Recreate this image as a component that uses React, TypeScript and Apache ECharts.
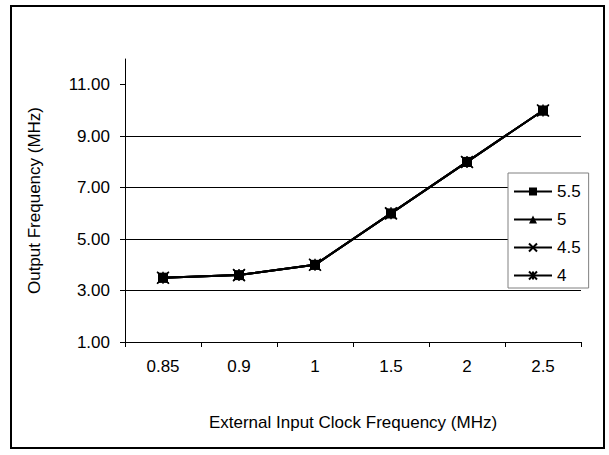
import React, { useEffect, useRef } from "react";
import * as echarts from "echarts";

const categories = ["0.85", "0.9", "1", "1.5", "2", "2.5"];
const seriesNames = ["5.5", "5", "4.5", "4"];
const values55 = [3.5, 3.6, 4.0, 6.0, 8.0, 10.0];
const values5 = [3.5, 3.6, 4.0, 6.0, 8.0, 10.0];
const values45 = [3.5, 3.6, 4.0, 6.0, 8.0, 10.0];
const values4 = [3.5, 3.6, 4.0, 6.0, 8.0, 10.0];
const yTicks = [1, 3, 5, 7, 9, 11];

const FONT = "'Liberation Sans', Arial, sans-serif";

export default function App() {
  const ref = useRef<HTMLDivElement>(null);
  useEffect(() => {
    if (!ref.current) return;
    const chart = echarts.init(ref.current, null, { renderer: "svg" });
    const symbols = [
      { symbol: "rect", size: 10 },
      { symbol: "triangle", size: 10 },
      { symbol: "path://M0,0L10,10M10,0L0,10", size: 11 },
      { symbol: "path://M0,0L10,10M10,0L0,10M5,0L5,10", size: 12 },
    ];
    const data = [values55, values5, values45, values4];
    chart.setOption({
      animation: false,
      backgroundColor: "#ffffff",
      textStyle: { fontFamily: FONT },
      grid: { left: 125, right: 28, top: 59, bottom: 113 },
      xAxis: {
        type: "category",
        data: categories,
        boundaryGap: true,
        name: "External Input Clock Frequency (MHz)",
        nameLocation: "middle",
        nameGap: 72,
        nameTextStyle: { color: "#000", fontSize: 17, fontFamily: FONT },
        axisLine: { lineStyle: { color: "#000", width: 1 } },
        axisTick: { show: true, length: 5, inside: false, lineStyle: { color: "#000" } },
        axisLabel: { color: "#000", fontSize: 17, fontFamily: FONT, margin: 16 },
        splitLine: { show: false },
      },
      yAxis: {
        type: "value",
        min: 1,
        max: 12,
        interval: 2,
        name: "Output Frequency (MHz)",
        nameLocation: "middle",
        nameGap: 82,
        nameTextStyle: { color: "#000", fontSize: 17, fontFamily: FONT },
        axisLine: { show: true, lineStyle: { color: "#000", width: 1 } },
        axisTick: { show: true, length: 5, lineStyle: { color: "#000" }, customValues: yTicks },
        axisLabel: {
          color: "#000",
          fontSize: 17,
          fontFamily: FONT,
          margin: 15,
          showMaxLabel: false,
          formatter: (v: number) => (yTicks.includes(v) ? v.toFixed(2) : ""),
        },
        splitLine: { show: true, showMaxLine: false, lineStyle: { color: "#000", width: 1 } },
      },
      legend: {
        orient: "vertical",
        left: 508,
        top: 173,
        itemWidth: 38,
        itemHeight: 10,
        itemGap: 11,
        padding: [10, 8, 4, 5],
        backgroundColor: "#fff",
        borderColor: "#808080",
        borderWidth: 1,
        borderRadius: 0,
        textStyle: { color: "#000", fontSize: 17, fontFamily: FONT },
        data: seriesNames,
      },
      series: seriesNames.map((name, i) => ({
        name,
        type: "line",
        data: data[i],
        symbol: symbols[i].symbol,
        symbolSize: symbols[i].size,
        showSymbol: true,
        lineStyle: { color: "#000", width: 2 },
        itemStyle: { color: "#000", borderColor: "#000", borderWidth: i >= 2 ? 1.5 : 0 },
        z: 2 + i,
      })),
      graphic: [
        {
          type: "rect",
          shape: { x: 11, y: 6, width: 593, height: 442 },
          style: { fill: "none", stroke: "#000", lineWidth: 2 },
          silent: true,
          z: 100,
        },
      ],
    });
    return () => chart.dispose();
  }, []);
  return (
    <div
      ref={ref}
      style={{ position: "fixed", left: 0, top: 0, width: 609, height: 455 }}
    />
  );
}
